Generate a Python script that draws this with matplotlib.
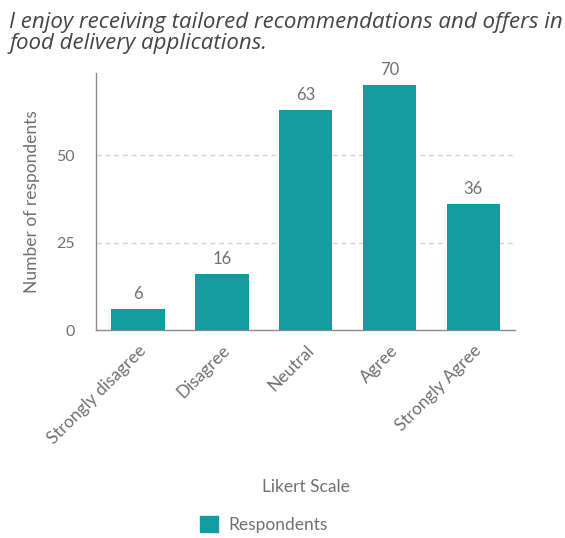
import matplotlib.pyplot as plt
from matplotlib.patches import Patch

categories = ["Strongly disagree", "Disagree", "Neutral", "Agree", "Strongly Agree"]
respondents = [6, 16, 63, 70, 36]
y_ticks = [0, 25, 50]

bar_color = "#129ca0"
text_gray = "#707070"

fig = plt.figure(figsize=(5.65, 5.38), dpi=100)
ax = fig.add_axes([0.170, 0.3866, 0.742, 0.4777])

x = range(len(categories))
bars = ax.bar(x, respondents, width=0.64, color=bar_color, zorder=3)

for rect, val in zip(bars, respondents):
    ax.annotate(str(val), (rect.get_x() + rect.get_width() / 2, val),
                xytext=(0, 5), textcoords="offset points", ha="center", va="bottom",
                fontsize=12, color=text_gray, family="Lato")

ax.set_xlim(-0.5, 4.5)
ax.set_ylim(0, 73.5)
ax.set_yticks(y_ticks)
ax.set_yticklabels([str(t) for t in y_ticks], fontsize=11.5, color=text_gray, family="Lato")
ax.set_xticks(list(x))
ax.set_xticklabels(categories, rotation=45, ha="right", rotation_mode="anchor",
                   fontsize=12.5, color=text_gray, family="Lato")
ax.tick_params(axis="y", length=0, pad=15)
ax.tick_params(axis="x", length=0, pad=9)

for t in y_ticks[1:]:
    ax.axhline(t, color="#cfcfcf", linestyle=(0, (4, 3)), linewidth=0.9, zorder=1)

for side in ("top", "right"):
    ax.spines[side].set_visible(False)
for side in ("left", "bottom"):
    ax.spines[side].set_color("#8a8a8a")
    ax.spines[side].set_linewidth(1.0)

ax.set_ylabel("Number of respondents", fontsize=12.5, color=text_gray, family="Lato", labelpad=12)
ax.set_xlabel("Likert Scale", fontsize=12.5, color=text_gray, family="Lato")
ax.xaxis.set_label_coords(0.5, -0.58)

fig.text(0.016, 0.977, "I enjoy receiving tailored recommendations and offers in\nfood delivery applications.",
         ha="left", va="top", fontsize=16, style="italic", color="#444444",
         family="Open Sans", linespacing=1.0)

fig.legend(handles=[Patch(color=bar_color, label="Respondents")], loc="center",
           bbox_to_anchor=(0.467, 0.025), frameon=False,
           handlelength=1.0, handleheight=1.0, handletextpad=0.6,
           prop={"family": "Lato", "size": 12.5}, labelcolor=text_gray)

fig.savefig("out.png", dpi=100)
